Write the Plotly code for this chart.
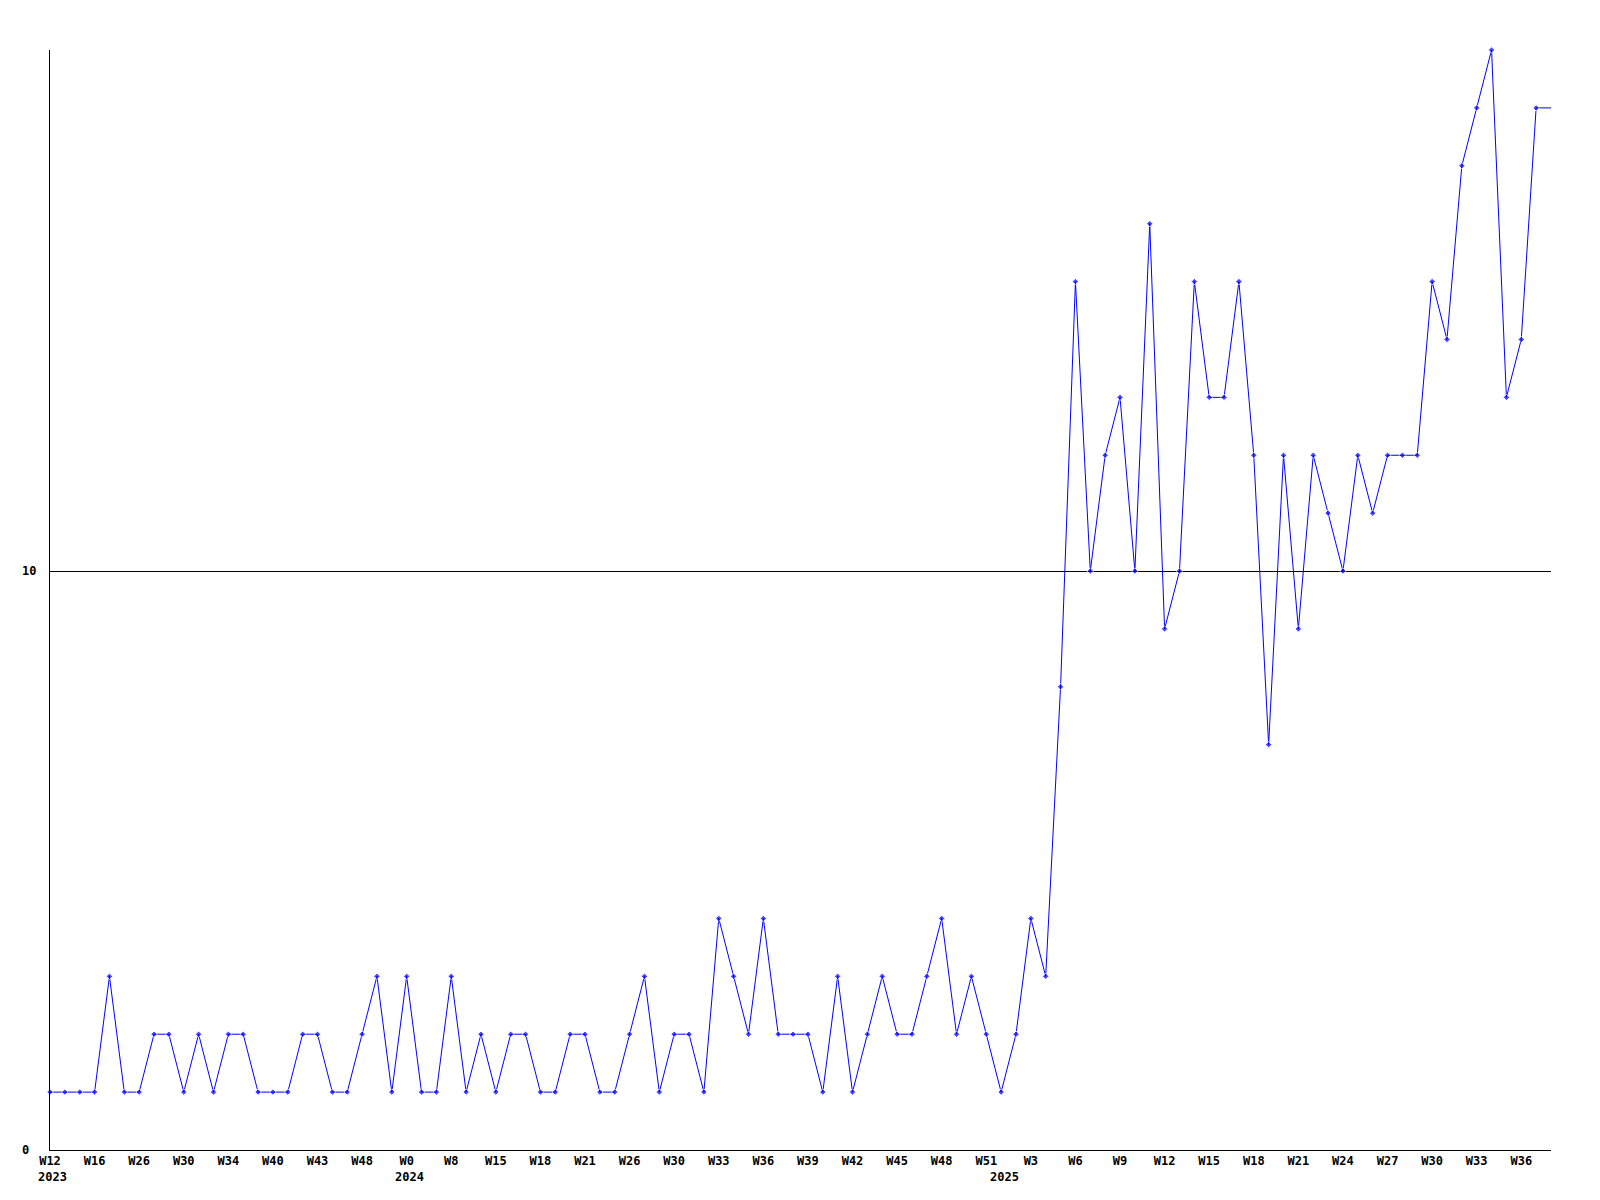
import plotly.graph_objects as go

# weekly counts, one per week (last entry is the running week, drawn without marker)
values = [1, 1, 1, 1, 3, 1, 1, 2, 2, 1, 2, 1, 2, 2, 1, 1, 1, 2, 2, 1,
          1, 2, 3, 1, 3, 1, 1, 3, 1, 2, 1, 2, 2, 1, 1, 2, 2, 1, 1, 2,
          3, 1, 2, 2, 1, 4, 3, 2, 4, 2, 2, 2, 1, 3, 1, 2, 3, 2, 2, 3,
          4, 2, 3, 2, 1, 2, 4, 3, 8, 15, 10, 12, 13, 10, 16, 9, 10, 15, 13, 13,
          15, 12, 7, 12, 9, 12, 11, 10, 12, 11, 12, 12, 12, 15, 14, 17, 18, 19, 13, 14,
          18, 18]

week_labels = ["W12", "W16", "W26", "W30", "W34", "W40", "W43", "W48", "W0", "W8",
               "W15", "W18", "W21", "W26", "W30", "W33", "W36", "W39", "W42", "W45",
               "W48", "W51", "W3", "W6", "W9", "W12", "W15", "W18", "W21", "W24",
               "W27", "W30", "W33", "W36"]
label_step = 3

years = ["2023", "2024", "2025"]
year_pos = [0, 24, 64]

y_ticks = [0, 10]

FONT = dict(family="DejaVu Sans Mono", size=12, color="black", weight="bold")

x = list(range(len(values)))
sizes = [5] * (len(values) - 1) + [0]

fig = go.Figure()
fig.add_trace(go.Scatter(
    x=x, y=values, mode="lines+markers",
    line=dict(color="#0000FF", width=1),
    marker=dict(symbol="diamond", size=sizes, color="#0000FF"),
    cliponaxis=False, showlegend=False, hoverinfo="y",
))

# year labels under the week labels
for yr, pos in zip(years, year_pos):
    fig.add_annotation(x=pos + 0.2, y=0, xref="x", yref="paper", text=yr,
                       showarrow=False, yanchor="middle", yshift=-27,
                       font=FONT)

# y labels, left aligned like the original
for v in y_ticks:
    fig.add_annotation(x=0, y=v, xref="paper", yref="y", text=str(v),
                       showarrow=False, xanchor="left", xshift=-30,
                       font=FONT)

# page body has an 8px margin, so the figure is a bit smaller than the window
fig.update_layout(
    width=1584, height=1184,
    paper_bgcolor="white", plot_bgcolor="white",
    margin=dict(l=42, r=41, t=42, b=42),
    font=FONT,
    xaxis=dict(
        range=[0, len(values) - 1],
        tickvals=[i * label_step for i in range(len(week_labels))],
        ticktext=week_labels,
        ticks="", showgrid=False, zeroline=False,
        showline=True, linecolor="black", linewidth=1,
        tickfont=FONT,
    ),
    yaxis=dict(
        range=[0, 19],
        tickvals=y_ticks, showticklabels=False, ticks="",
        showgrid=True, gridcolor="black", gridwidth=1,
        zeroline=False, showline=True, linecolor="black", linewidth=1,
    ),
)

fig.write_html("out.html")
